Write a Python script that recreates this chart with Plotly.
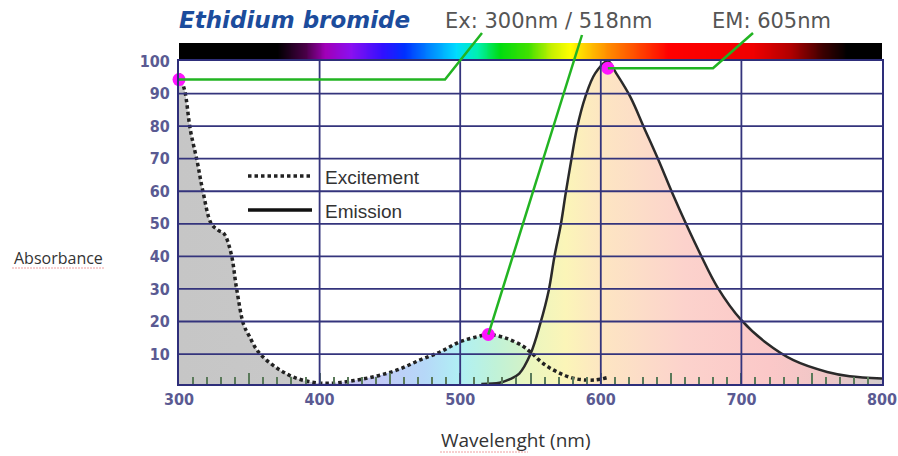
import numpy as np
import plotly.graph_objects as go

# ---------------- data ----------------
exc_nm = [300, 304, 308, 313, 317, 323, 328, 332, 337, 341, 346, 350, 355, 360, 367, 374, 382, 393, 405,
          415, 429, 443, 457, 471, 486, 500, 512, 520, 533, 545, 551, 559, 569, 581, 595, 605]
exc_val = [96, 91, 79, 69, 60, 50, 48, 47, 41, 30, 19, 15.5, 11.5, 9, 6.5, 4.5, 2.8, 1.5, 1.0,
           1.3, 2.2, 3.5, 5.4, 8.1, 10.7, 13.8, 15.3, 16, 14.8, 12.3, 10.2, 7.1, 4.5, 2.5, 2.0, 2.8]

em_nm = [515, 528, 535, 542, 550, 557, 563, 567, 571.5, 575, 579, 583, 589, 596, 605, 611, 621, 631, 641,
         651, 661, 671, 683, 700, 718, 737, 761, 777, 800]
em_val = [0.8, 1.2, 2.2, 4.0, 10, 19.4, 29.6, 39.9, 49.6, 59.3, 69.6, 79.3, 89, 96.2, 100, 96.2, 89, 79.3, 69.6,
          59.3, 49.6, 40.5, 30.5, 20.4, 13.3, 8.1, 4.5, 3.2, 2.5]

peak_nm = [300, 520, 605]
peak_val = [94.3, 16.0, 97.8]

x_tickvals = [300, 350, 400, 450, 500, 550, 600, 650, 700, 750, 800]
x_ticktext = ["300", "", "400", "", "500", "", "600", "", "700", "", "800"]
x_grid = [400, 500, 600, 700]
y_tickvals = [10, 20, 30, 40, 50, 60, 70, 80, 90, 100]
y_grid = [10, 20, 30, 40, 50, 60, 70, 80, 90]

spectrum_nm = [300, 370, 390, 404, 422, 445, 460, 480, 497, 512, 528, 548, 565, 578, 590, 605, 625, 648, 708, 735, 758, 775, 800]
spectrum_col = ["#000000", "#000000", "#4a0048", "#a000b8", "#8a10f0", "#3010ff", "#0030ff", "#0090ff", "#00dcff",
                "#00f0b0", "#00dc10", "#40e000", "#c8f000", "#ffff00", "#ffc800", "#ff8c00", "#ff4a00", "#ff0000",
                "#f00000", "#b00000", "#3a0000", "#000000", "#000000"]

exc_fill_nm = [300, 385, 405, 440, 475, 500, 525, 550, 580, 605]
exc_fill_col = ["#c6c6c6", "#c8c8c8", "#d2cdee", "#c2c8f6", "#b6d8f8", "#b0f0f4", "#c0f2d8", "#d6f2c4", "#f0f2c4", "#f6eec8"]
em_fill_nm = [515, 545, 575, 600, 630, 660, 720, 760, 800]
em_fill_col = ["#d0f2cc", "#e8f6c0", "#fbf5b8", "#fde6c2", "#fcdcc8", "#fcd2cc", "#fbc8c8", "#efc6c6", "#d2cccc"]

# ---------------- layout geometry ----------------
W, H = 898, 456
ML, MR, MT, MB = 179, 16, 43, 72
PW, PH = W - ML - MR, H - MT - MB
Y0, Y1 = 0.8, 100
DOM_TOP = (H - MB - 61) / PH
BAR_BOT = (H - MB - 59) / PH
X0, X1 = 300, 800


def px2x(px):
    return (px - ML) / PW


def py2y(py):
    return (H - MB - py) / PH


def v2paper(v):
    return (v - Y0) / (Y1 - Y0) * DOM_TOP


def px2nm(px):
    return X0 + (px - ML) / PW * (X1 - X0)


def scale(nms, cols, lo, hi):
    return [[(n - lo) / (hi - lo), c] for n, c in zip(nms, cols)]


fig = go.Figure()

# spectrum band
band = np.arange(300, 801, 2)
fig.add_trace(go.Heatmap(x=band, y=[0, 1], z=[band, band], zsmooth="best",
                         colorscale=scale(spectrum_nm, spectrum_col, 300, 800), zmin=300, zmax=800,
                         showscale=False, hoverinfo="skip", xaxis="x", yaxis="y2"))

# fills
fig.add_trace(go.Scatter(x=exc_nm, y=exc_val, mode="lines", line=dict(width=0, shape="spline"),
                         fill="tozeroy",
                         fillgradient=dict(type="horizontal", start=exc_fill_nm[0], stop=exc_fill_nm[-1],
                                           colorscale=scale(exc_fill_nm, exc_fill_col, exc_fill_nm[0], exc_fill_nm[-1])),
                         showlegend=False, hoverinfo="skip"))
fig.add_trace(go.Scatter(x=em_nm, y=em_val, mode="lines", line=dict(width=0, shape="spline"),
                         fill="tozeroy",
                         fillgradient=dict(type="horizontal", start=em_fill_nm[0], stop=em_fill_nm[-1],
                                           colorscale=scale(em_fill_nm, em_fill_col, em_fill_nm[0], em_fill_nm[-1])),
                         showlegend=False, hoverinfo="skip"))

# curves
fig.add_trace(go.Scatter(x=exc_nm, y=exc_val, mode="lines", name="Excitement",
                         line=dict(color="#222222", width=3.5, dash="3.5px,3px", shape="spline"), showlegend=False))
fig.add_trace(go.Scatter(x=em_nm, y=em_val, mode="lines", name="Emission",
                         line=dict(color="#2a2a2a", width=2.5, shape="spline"), showlegend=False))

shapes = []
grid_col = "#34347c"
for v in y_grid:
    shapes.append(dict(type="line", xref="x", yref="y", x0=X0, x1=X1, y0=v, y1=v,
                       line=dict(color=grid_col, width=1.8), layer="above"))
for g in x_grid:
    shapes.append(dict(type="line", xref="x", yref="y", x0=g, x1=g, y0=Y0, y1=Y1,
                       line=dict(color=grid_col, width=1.8), layer="above"))

green = "#22b422"
# callouts
y_a = v2paper(peak_val[0])
shapes.append(dict(type="path", xref="x", yref="paper", layer="above",
                   path=f"M {peak_nm[0]},{y_a} L {px2nm(445)},{y_a} L {px2nm(482)},{py2y(33)}",
                   line=dict(color=green, width=2.5)))
shapes.append(dict(type="path", xref="x", yref="paper", layer="above",
                   path=f"M {peak_nm[1]},{v2paper(peak_val[1])} L {px2nm(582)},{py2y(35)}",
                   line=dict(color=green, width=2.5)))
y_c = v2paper(peak_val[2])
shapes.append(dict(type="path", xref="x", yref="paper", layer="above",
                   path=f"M {peak_nm[2]},{y_c} L {px2nm(713)},{y_c} L {px2nm(753)},{py2y(33)}",
                   line=dict(color=green, width=2.5)))

# legend samples
shapes.append(dict(type="line", xref="paper", yref="paper", x0=px2x(248), x1=px2x(312),
                   y0=py2y(176), y1=py2y(176), line=dict(color="#222222", width=3.5, dash="3.5px,3px")))
shapes.append(dict(type="line", xref="paper", yref="paper", x0=px2x(248), x1=px2x(312),
                   y0=py2y(210), y1=py2y(210), line=dict(color="#111111", width=3.5)))

# spell-check style underlines
shapes.append(dict(type="line", xref="paper", yref="paper", x0=px2x(12), x1=px2x(105),
                   y0=py2y(268), y1=py2y(268), line=dict(color="#f0a0a0", width=1.2, dash="2px,1px")))
shapes.append(dict(type="line", xref="paper", yref="paper", x0=px2x(440), x1=px2x(528),
                   y0=py2y(452), y1=py2y(452), line=dict(color="#f0a0a0", width=1.2, dash="2px,1px")))

fig.add_trace(go.Scatter(x=peak_nm, y=peak_val, mode="markers", cliponaxis=False,
                         marker=dict(color="#ff14ff", size=13), showlegend=False, hoverinfo="skip"))

annotations = [
    dict(text="<b><i>Ethidium bromide</i></b>", x=px2x(177), y=py2y(20), xref="paper", yref="paper",
         xanchor="left", yanchor="middle", showarrow=False,
         font=dict(family="DejaVu Sans", size=23, color="#1c4c9c")),
    dict(text="Ex: 300nm / 518nm", x=px2x(443), y=py2y(21), xref="paper", yref="paper",
         xanchor="left", yanchor="middle", showarrow=False,
         font=dict(family="DejaVu Sans", size=21, color="#555555")),
    dict(text="EM: 605nm", x=px2x(710), y=py2y(21), xref="paper", yref="paper",
         xanchor="left", yanchor="middle", showarrow=False,
         font=dict(family="DejaVu Sans", size=21, color="#555555")),
    dict(text="Excitement", x=px2x(323), y=py2y(177), xref="paper", yref="paper",
         xanchor="left", yanchor="middle", showarrow=False,
         font=dict(family="Liberation Sans", size=19, color="#333333")),
    dict(text="Emission", x=px2x(323), y=py2y(211), xref="paper", yref="paper",
         xanchor="left", yanchor="middle", showarrow=False,
         font=dict(family="Liberation Sans", size=19, color="#333333")),
    dict(text="Absorbance", x=px2x(58), y=py2y(258), xref="paper", yref="paper",
         xanchor="center", yanchor="middle", showarrow=False,
         font=dict(family="Open Sans", size=16, color="#333333")),
    dict(text="Wavelenght (nm)", x=px2x(516), y=py2y(440), xref="paper", yref="paper",
         xanchor="center", yanchor="middle", showarrow=False,
         font=dict(family="Open Sans", size=19, color="#333333")),
]

tick_font = dict(family="Liberation Sans Narrow, DejaVu Sans Condensed, Liberation Sans", size=16,
                 color="#5a5a92", weight="bold")
axis_col = "#2e2e7a"

fig.update_layout(
    width=W, height=H, margin=dict(l=ML, r=MR, t=MT, b=MB, autoexpand=False),
    paper_bgcolor="white", plot_bgcolor="white", showlegend=False,
    xaxis=dict(range=[X0, X1], tickvals=x_tickvals, ticktext=x_ticktext, ticks="inside", ticklen=11,
               tickwidth=1.5, tickcolor="#5a7a5a", showgrid=False, zeroline=False,
               showline=True, mirror=True, linecolor=axis_col, linewidth=2, anchor="y",
               minor=dict(dtick=10, tick0=300, ticks="inside", ticklen=7, tickwidth=1.5, tickcolor="#5a7a5a",
                          showgrid=False),
               tickfont=tick_font),
    yaxis=dict(range=[Y0, Y1], domain=[0, DOM_TOP], tickvals=y_tickvals, ticks="", showgrid=False,
               zeroline=False, showline=True, mirror=True, linecolor=axis_col, linewidth=2,
               tickfont=tick_font, ticklabelstandoff=4),
    yaxis2=dict(domain=[BAR_BOT, 1], range=[0, 1], visible=False, anchor="x"),
    shapes=shapes, annotations=annotations,
)

fig.write_html("out.html", config={"displayModeBar": False},
               post_script="document.body.style.margin='0px';document.body.style.overflow='hidden';")
